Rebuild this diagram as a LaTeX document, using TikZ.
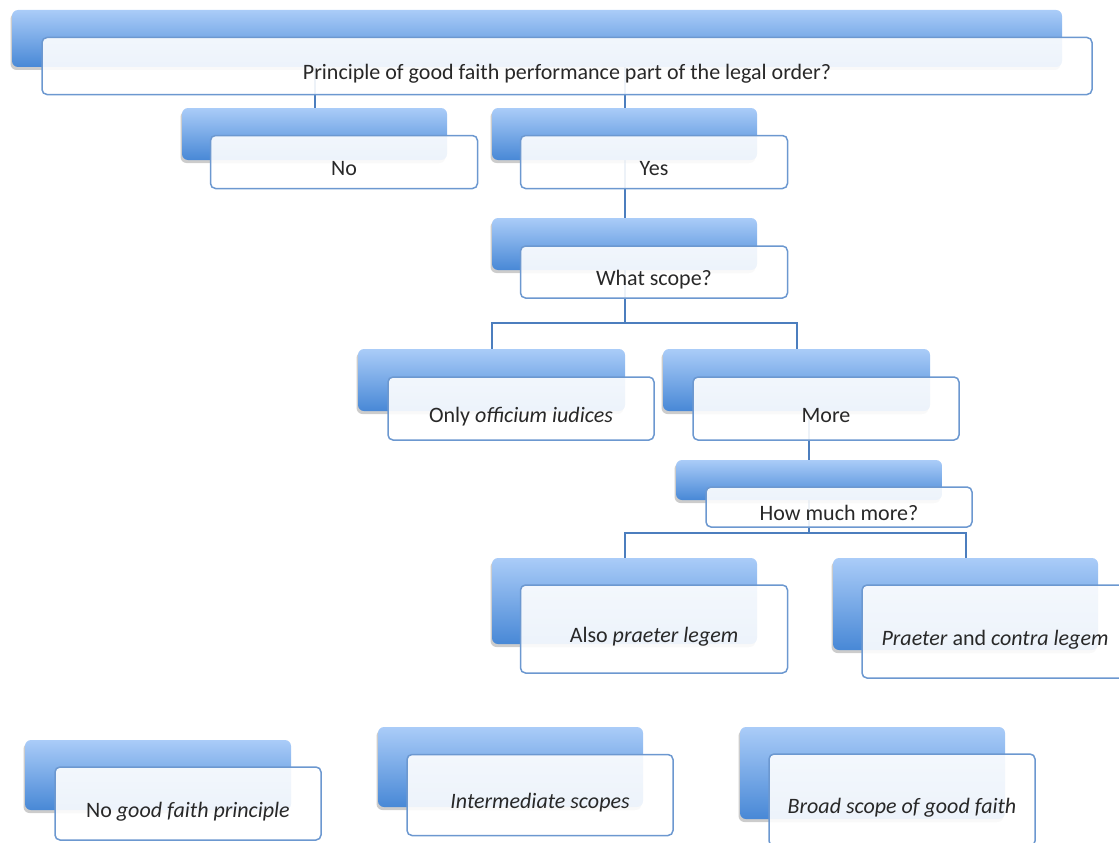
\documentclass[tikz,border=0pt]{standalone}
\usepackage{fontspec}
\setmainfont{Carlito}
\usetikzlibrary{backgrounds,shadows}
\definecolor{bluetop}{RGB}{170,204,248}
\definecolor{bluebot}{RGB}{72,136,214}
\definecolor{frameblue}{RGB}{108,152,208}
\definecolor{connblue}{RGB}{76,126,190}
\definecolor{txtgray}{RGB}{40,40,40}
\tikzset{
  backbox/.style={rectangle, rounded corners=6pt, draw=none,
    top color=bluetop, bottom color=bluebot,
    drop shadow={shadow xshift=-1.5pt, shadow yshift=-3pt, opacity=0.2, fill=black},
    inner sep=0pt},
  frontbox/.style={rectangle, rounded corners=5pt, draw=frameblue, line width=1.5pt,
    fill=white, fill opacity=0.9, text opacity=1, text=txtgray,
    font=\fontsize{22}{26}\selectfont, text height=27pt, text depth=0pt,
    align=center, inner sep=0pt},
  conn/.style={draw=connblue, line width=2pt},
}
\begin{document}
\begin{tikzpicture}[x=1pt,y=-1pt]
\useasboundingbox (0,0) rectangle (1119,843);
\clip (0,0) rectangle (1119,843);

% Level 0
\node[backbox, minimum width=1050pt, minimum height=57pt] (topB) at (537,38.5) {};
\node[frontbox, minimum width=1050pt, minimum height=57pt] (topF) at ([shift={(30,27.5)}]topB.center) {Principle of good faith performance part of the legal order?};

% Level 1
\node[backbox, minimum width=265pt, minimum height=52pt] (noB) at (314.5,134) {};
\node[frontbox, minimum width=267pt, minimum height=53pt] (noF) at ([shift={(29.5,28)}]noB.center) {No};
\node[backbox, minimum width=265pt, minimum height=52pt] (yesB) at (624.5,134) {};
\node[frontbox, minimum width=267pt, minimum height=53pt] (yesF) at ([shift={(29.5,28)}]yesB.center) {Yes};

% Level 2
\node[backbox, minimum width=265pt, minimum height=52pt] (scopeB) at (624.5,244) {};
\node[frontbox, minimum width=267pt, minimum height=52pt] (scopeF) at ([shift={(29.5,28)}]scopeB.center) {What scope?};

% Level 3
\node[backbox, minimum width=267pt, minimum height=62pt] (onlyB) at (491.5,380) {};
\node[frontbox, minimum width=266pt, minimum height=63pt] (onlyF) at ([shift={(29.5,28.5)}]onlyB.center) {Only \textit{officium iudices}};
\node[backbox, minimum width=267pt, minimum height=62pt] (moreB) at (796.5,380) {};
\node[frontbox, minimum width=266pt, minimum height=63pt] (moreF) at ([shift={(29.5,28.5)}]moreB.center) {More};

% Level 4
\node[backbox, minimum width=266pt, minimum height=40pt] (howB) at (809,480) {};
\node[frontbox, minimum width=266pt, minimum height=40pt] (howF) at ([shift={(30,27)}]howB.center) {How much more?};

% Level 5
\node[backbox, minimum width=265pt, minimum height=86pt] (alsoB) at (624.5,601) {};
\node[frontbox, minimum width=267pt, minimum height=88pt] (alsoF) at ([shift={(29.5,28)}]alsoB.center) {Also \textit{praeter legem}};
\node[backbox, minimum width=265pt, minimum height=92pt] (praeterB) at (965.5,604) {};
\node[frontbox, minimum width=266pt, minimum height=93pt] (praeterF) at ([shift={(29.5,27.5)}]praeterB.center) {\textit{Praeter} and \textit{contra legem}};

% Legend row
\node[backbox, minimum width=266pt, minimum height=70pt] (nogoodB) at (158,775) {};
\node[frontbox, minimum width=266pt, minimum height=73pt] (nogoodF) at ([shift={(30,28.5)}]nogoodB.center) {No \textit{good faith principle}};
\node[backbox, minimum width=265pt, minimum height=80pt] (interB) at (510.5,767) {};
\node[frontbox, minimum width=266pt, minimum height=81pt] (interF) at ([shift={(29.5,28)}]interB.center) {\textit{Intermediate scopes}};
\node[backbox, minimum width=265pt, minimum height=92pt] (broadB) at (872.5,773) {};
\node[frontbox, minimum width=266pt, minimum height=92pt] (broadF) at ([shift={(29.5,27)}]broadB.center) {\textit{Broad scope of good faith}};

% Connectors (behind the boxes)
\coordinate (split1) at (624.5,323);
\coordinate (split2) at (809,533);
\begin{scope}[on background layer]
  \draw[conn] (topB.center -| noB.north) -- (noB.north);
  \draw[conn] (topB.center -| yesB.north) -- (yesB.north);
  \draw[conn] (yesB.center) -- (scopeB.north);
  \draw[conn] (scopeB.center) -- (split1);
  \draw[conn] (split1) -| (onlyB.north);
  \draw[conn] (split1) -| (moreB.north);
  \draw[conn] (howB.north |- moreB.center) -- (howB.north);
  \draw[conn] (howB.center) -- (split2);
  \draw[conn] (split2) -| (alsoB.north);
  \draw[conn] (split2) -| (praeterB.north);
\end{scope}
\end{tikzpicture}
\end{document}
